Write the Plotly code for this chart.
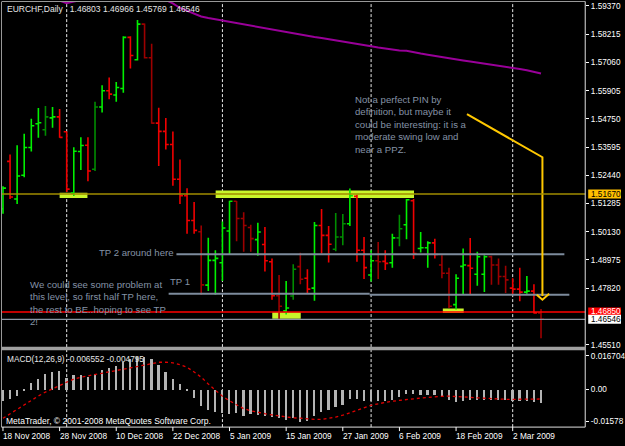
import plotly.graph_objects as go
import pandas as pd

W, H = 625, 446

# ---------------- data ----------------
bar_dates = [d for d in pd.bdate_range("2008-11-18", "2009-03-06")
             if d.strftime("%m-%d") not in ("12-25", "01-01")]

opens = [1.51064, 1.53009, 1.51469, 1.52442, 1.53576, 1.54549, 1.54306, 1.54792, 1.54832, 1.54224,
         1.51712, 1.53414, 1.53669, 1.52685, 1.55237, 1.55898, 1.55724, 1.55995, 1.58086, 1.57170,
         1.58629, 1.57251, 1.54577, 1.54237, 1.53698, 1.52280, 1.51603, 1.50590, 1.50132, 1.47944,
         1.48957, 1.48864, 1.50160, 1.51376, 1.50671, 1.50306, 1.49808, 1.49605, 1.48904, 1.47510,
         1.46891, 1.47498, 1.48702, 1.48228, 1.47822, 1.50387, 1.49982, 1.49415, 1.49917, 1.50456,
         1.51579, 1.49374, 1.48361, 1.48945, 1.48916, 1.48864, 1.49877, 1.50416, 1.51400, 1.49443,
         1.49472, 1.49674, 1.48767, 1.48430, 1.47146, 1.48714, 1.48742, 1.48390, 1.48390, 1.49107,
         1.48767, 1.48297, 1.47822, 1.47782, 1.47660, 1.47701, 1.46803]
highs = [1.51996, 1.53293, 1.53669, 1.54143, 1.54751, 1.55197, 1.55278, 1.55237, 1.55156, 1.54237,
         1.53588, 1.53994, 1.53994, 1.55452, 1.56129, 1.56441, 1.56263, 1.58126, 1.58126, 1.58791,
         1.58653, 1.57819, 1.55209, 1.54780, 1.54237, 1.53090, 1.51915, 1.51348, 1.50387, 1.49889,
         1.49374, 1.50549, 1.51400, 1.51390, 1.50930, 1.50416, 1.50497, 1.50323, 1.49038, 1.48361,
         1.48118, 1.48795, 1.49269, 1.48592, 1.50525, 1.51064, 1.50363, 1.50902, 1.50861, 1.51903,
         1.51643, 1.49917, 1.49374, 1.49715, 1.49374, 1.50051, 1.50821, 1.51469, 1.51469, 1.50120,
         1.49739, 1.49848, 1.49172, 1.48661, 1.48390, 1.49443, 1.49877, 1.49309, 1.49172, 1.49147,
         1.49038, 1.48742, 1.48228, 1.48661, 1.48321, 1.47985, 1.46966]
lows = [1.50862, 1.51469, 1.51267, 1.52361, 1.53414, 1.53981, 1.54062, 1.54387, 1.53981, 1.51753,
        1.51591, 1.52656, 1.52199, 1.52616, 1.55007, 1.55549, 1.55452, 1.55817, 1.56806, 1.57142,
        1.57220, 1.54549, 1.52818, 1.53495, 1.52008, 1.51267, 1.50051, 1.50051, 1.47551, 1.47701,
        1.47551, 1.48118, 1.49200, 1.49739, 1.49309, 1.49309, 1.49147, 1.48499, 1.47348, 1.46514,
        1.46741, 1.47348, 1.47985, 1.47592, 1.47308, 1.49241, 1.48876, 1.49334, 1.49577, 1.50363,
        1.48904, 1.48199, 1.48094, 1.48199, 1.48564, 1.48661, 1.49536, 1.49820, 1.49010, 1.49281,
        1.48661, 1.49038, 1.48228, 1.47012, 1.46943, 1.47551, 1.47551, 1.47916, 1.47660, 1.47956,
        1.47956, 1.47620, 1.47551, 1.47284, 1.47592, 1.46781, 1.45769]
closes = [1.51915, 1.51550, 1.52413, 1.53576, 1.54468, 1.54589, 1.54832, 1.54832, 1.53994, 1.51874,
          1.53426, 1.53657, 1.52616, 1.55237, 1.55898, 1.55764, 1.56036, 1.58086, 1.57344, 1.58629,
          1.57251, 1.54577, 1.54237, 1.53698, 1.52280, 1.51603, 1.50590, 1.50185, 1.47956, 1.48957,
          1.49038, 1.50282, 1.51376, 1.50671, 1.50387, 1.49849, 1.50120, 1.48945, 1.47510, 1.47081,
          1.47012, 1.48592, 1.48187, 1.47782, 1.50387, 1.49982, 1.49617, 1.49917, 1.50456, 1.51603,
          1.49374, 1.48661, 1.48945, 1.48904, 1.48835, 1.49877, 1.50254, 1.51441, 1.49241, 1.49472,
          1.49674, 1.49200, 1.48430, 1.47081, 1.48228, 1.48767, 1.48633, 1.49107, 1.49107, 1.48767,
          1.48297, 1.48159, 1.47782, 1.47660, 1.47701, 1.46810, 1.46546]
# bar colour class per bar: G lime, g dark green, R red, r dark red
bar_shade = list("GRGGGGgGRR" "GGRgGRGGRG" "rrRRRRRRrG" "GGGrrrGRRr"
                 "GgrRGRRggG" "RRGrRGgGRG" "GRrrGGRGGr" "rrRRGRr")

ma_values = [None] * 7 + [
    1.59696, 1.59594, 1.59480, 1.59553, 1.59615, 1.59660, 1.59690, 1.59710, 1.59720, 1.59720,
    1.59710, 1.59700, 1.59690, 1.59680, 1.59660, 1.59640, 1.59615, 1.59472, 1.59288, 1.59166,
    1.59044, 1.58942, 1.58881, 1.58828, 1.58779, 1.58726, 1.58677, 1.58628, 1.58575, 1.58514,
    1.58461, 1.58404, 1.58343, 1.58286, 1.58229, 1.58180, 1.58139, 1.58098, 1.58057, 1.58012,
    1.57968, 1.57919, 1.57874, 1.57829, 1.57780, 1.57719, 1.57666, 1.57621, 1.57576, 1.57548,
    1.57536, 1.57470, 1.57421, 1.57372, 1.57319, 1.57271, 1.57222, 1.57177, 1.57136, 1.57095,
    1.57055, 1.57014, 1.56969, 1.56924, 1.56879, 1.56838, 1.56790, 1.56737, 1.56671, 1.56606]

macd_main = [-0.00579, -0.00460, -0.00297, -0.00084, 0.00312, 0.00529, 0.00776, 0.00890, 0.00940, 0.00608,
             0.00742, 0.00742, 0.00643, 0.00806, 0.00974, 0.01073, 0.01187, 0.01385, 0.01533, 0.01607,
             0.01632, 0.01533, 0.01236, 0.00905, 0.00544, 0.00282, -0.00084, -0.00410, -0.00826, -0.00989,
             -0.01123, -0.01162, -0.01187, -0.01152, -0.01286, -0.01187, -0.01236, -0.01320, -0.01335, -0.01400,
             -0.01484, -0.01400, -0.01583, -0.01568, -0.01320, -0.01123, -0.00989, -0.00841, -0.00742, -0.00460,
             -0.00460, -0.00579, -0.00579, -0.00579, -0.00579, -0.00495, -0.00381, -0.00213, -0.00213, -0.00247,
             -0.00247, -0.00247, -0.00331, -0.00509, -0.00628, -0.00579, -0.00529, -0.00529, -0.00495, -0.00495,
             -0.00529, -0.00529, -0.00554, -0.00579, -0.00579, -0.00628, -0.006552]
macd_signal = [-0.01440, -0.01218, -0.00971, -0.00750, -0.00528, -0.00330, -0.00133, 0.00015, 0.00187, 0.00360,
               0.00508, 0.00607, 0.00680, 0.00745, 0.00789, 0.00863, 0.00937, 0.01001, 0.01075, 0.01159,
               0.01236, 0.01301, 0.01350, 0.01350, 0.01320, 0.01227, 0.01098, 0.00865, 0.00603, 0.00272,
               -0.00049, -0.00346, -0.00569, -0.00767, -0.00964, -0.01063, -0.01147, -0.01212, -0.01271, -0.01325,
               -0.01375, -0.01419, -0.01434, -0.01484, -0.01498, -0.01498, -0.01459, -0.01385, -0.01286, -0.01162,
               -0.01029, -0.00940, -0.00791, -0.00717, -0.00643, -0.00593, -0.00544, -0.00495, -0.00460, -0.00435,
               -0.00406, -0.00361, -0.00346, -0.00336, -0.00346, -0.00371, -0.00396, -0.00420, -0.00445, -0.00460,
               -0.00480, -0.00495, -0.00495, -0.00495, -0.00495, -0.00490, -0.004795]

price_ticks = [1.59370, 1.58215, 1.57060, 1.55905, 1.54750, 1.53595, 1.52440,
               1.51285, 1.50130, 1.48975, 1.47820, 1.45510]
macd_ticks = [0.016704, 0.0, -0.01578]
macd_tick_text = ["0.016704", "0.00", "-0.01578"]
date_labels = ["18 Nov 2008", "28 Nov 2008", "10 Dec 2008", "22 Dec 2008", "5 Jan 2009",
               "15 Jan 2009", "27 Jan 2009", "6 Feb 2009", "18 Feb 2009", "2 Mar 2009"]

level_olive = 1.51670
level_red = 1.46850
level_bid = closes[-1]

# user-drawn objects (bar index, price)
tp2_line = [(24.5, 1.49207), (79.3, 1.49207)]
tp1_line_a = [(23.4, 1.47594), (51.8, 1.47594)]
tp1_line_b = [(51.8, 1.47553), (80.0, 1.47553)]
arrow_path = [(65.54, 1.54939), (76.2, 1.53179), (76.2, 1.47500)]
arrow_head = [(75.4, 1.47553), (76.2, 1.47350), (77.15, 1.47594)]
zones = [(8.0, 11.93, 1.51512, 1.51728), (30.04, 58.06, 1.51512, 1.51821),
         (38.04, 42.06, 1.46565, 1.46837), (62.13, 65.08, 1.46800, 1.46991)]

title_text = "EURCHF,Daily\u00a0\u00a0 1.46803 1.46966 1.45769 1.46546"
macd_title = "MACD(12,26,9) -0.006552 -0.004795"
note_pin = ("Not a perfect PIN by<br>definition, but maybe it<br>could be interesting: it is a"
            "<br>moderate swing low and<br>near a PPZ.")
note_tp2 = "TP 2 around here"
note_tp1 = "TP 1"
note_problem = ("We could see some problem at<br>this level, so first half TP here,"
                "<br>the rest to BE..hoping to see TP<br>2!")

# ---------------- layout helpers ----------------
def px(x):
    return x / W

def py(y):
    return 1 - y / H

X_LEFT, X_RIGHT = 2, 589
Y_TOP, Y_MAIN_BOT, Y_MACD_TOP, Y_MACD_BOT = 2, 349, 353, 430
BAR0_PX, BAR_STEP = 3.0, 7.125
x_range = [(X_LEFT - BAR0_PX) / BAR_STEP, (X_RIGHT - BAR0_PX) / BAR_STEP]

FONT = "Liberation Sans, Arial, sans-serif"
NOTE_COL = "#8492a6"

fig = go.Figure()
xs = list(range(len(bar_dates)))

shade_colors = {"G": "#00f000", "g": "#008c00", "R": "#f00000", "r": "#9c0000"}
for key, col in shade_colors.items():
    idx = [i for i, s in enumerate(bar_shade) if s == key]
    fig.add_trace(go.Ohlc(
        x=idx, open=[opens[i] for i in idx], high=[highs[i] for i in idx],
        low=[lows[i] for i in idx], close=[closes[i] for i in idx],
        increasing=dict(line=dict(color=col, width=1.6)),
        decreasing=dict(line=dict(color=col, width=1.6)),
        tickwidth=0.42, hoverinfo="skip", showlegend=False, xaxis="x", yaxis="y"))

fig.add_trace(go.Scatter(x=xs, y=ma_values, mode="lines", line=dict(color="#990099", width=2),
                         hoverinfo="skip", showlegend=False, xaxis="x", yaxis="y"))

# user trendlines and arrow
for seg in (tp2_line, tp1_line_a, tp1_line_b):
    fig.add_trace(go.Scatter(x=[p[0] for p in seg], y=[p[1] for p in seg], mode="lines",
                             line=dict(color="#7d8b9c", width=2), hoverinfo="skip",
                             showlegend=False, xaxis="x", yaxis="y"))
for seg in (arrow_path, arrow_head):
    fig.add_trace(go.Scatter(x=[p[0] for p in seg], y=[p[1] for p in seg], mode="lines",
                             line=dict(color="#ffc800", width=2), hoverinfo="skip",
                             showlegend=False, xaxis="x", yaxis="y"))

# MACD
fig.add_trace(go.Bar(x=xs, y=macd_main, width=0.24, marker=dict(color="#b4b4b4", line=dict(width=0)),
                     hoverinfo="skip", showlegend=False, xaxis="x2", yaxis="y2"))
fig.add_trace(go.Scatter(x=xs, y=macd_signal, mode="lines",
                         line=dict(color="#e00000", width=1.3, dash="3px,3px"),
                         hoverinfo="skip", showlegend=False, xaxis="x2", yaxis="y2"))

shapes = []
# month-start grid lines
month_starts = [i for i in range(1, len(bar_dates)) if bar_dates[i].month != bar_dates[i - 1].month]
for i in month_starts:
    shapes.append(dict(type="line", xref="x", yref="paper", x0=i, x1=i, y0=py(Y_MACD_BOT), y1=py(Y_TOP),
                       line=dict(color="#e8e8e8", width=1, dash="3px,2px"), layer="below"))
# zones
for x0, x1, y0, y1 in zones:
    shapes.append(dict(type="rect", xref="x", yref="y", x0=x0, x1=x1, y0=y0, y1=y1,
                       fillcolor="#c8f52a", line=dict(width=0), layer="below"))
# horizontal levels
for lvl, col, wd in ((level_olive, "#a08c00", 1.5), (level_bid, "#8c96a4", 1.2), (level_red, "#ff0000", 1.5)):
    shapes.append(dict(type="line", xref="x domain", yref="y", x0=0, x1=1, y0=lvl, y1=lvl,
                       line=dict(color=col, width=wd)))
# frame
shapes += [
    dict(type="line", xref="paper", yref="paper", x0=px(X_LEFT), x1=px(X_RIGHT), y0=py(1.5), y1=py(1.5),
         line=dict(color="#9a9a9a", width=1)),
    dict(type="line", xref="paper", yref="paper", x0=px(1.5), x1=px(1.5), y0=py(Y_MACD_BOT), y1=py(1.5),
         line=dict(color="#9a9a9a", width=1)),
    dict(type="line", xref="paper", yref="paper", x0=px(X_RIGHT), x1=px(X_RIGHT), y0=py(Y_MACD_BOT), y1=py(1.5),
         line=dict(color="#e0e0e0", width=1)),
    dict(type="line", xref="paper", yref="paper", x0=px(1.5), x1=px(X_RIGHT), y0=py(Y_MACD_BOT), y1=py(Y_MACD_BOT),
         line=dict(color="#e0e0e0", width=1)),
    dict(type="rect", xref="paper", yref="paper", x0=px(1.5), x1=px(X_RIGHT), y0=py(352.5), y1=py(349),
         fillcolor="#a0a0a0", line=dict(width=0)),
]
# price label boxes
for lvl, bg in ((level_olive, "#ffc000"), (level_red, "#ff0000"), (level_bid, "#ffffff")):
    shapes.append(dict(type="rect", xref="paper", yref="y", ysizemode="pixel", yanchor=lvl,
                       x0=px(592), x1=px(625), y0=-4.5, y1=4.5, fillcolor=bg, line=dict(width=0)))

annotations = []
for lvl, fc in ((level_olive, "#000000"), (level_red, "#ffffff"), (level_bid, "#000000")):
    annotations.append(dict(xref="paper", yref="y", x=px(593), y=lvl, xanchor="left", yanchor="middle",
                            text=f"{lvl:.5f}", showarrow=False, font=dict(family=FONT, size=8.2, color=fc)))

# date labels + ticks
for lab in date_labels:
    d = pd.Timestamp(lab)
    i = [k for k, bd in enumerate(bar_dates) if bd == d][0]
    annotations.append(dict(xref="x", yref="paper", x=i, y=py(438.5), xanchor="left", yanchor="middle",
                            xshift=-2, text=lab, showarrow=False, font=dict(family=FONT, size=8.3, color="#ffffff")))
    shapes.append(dict(type="line", xref="x", yref="paper", x0=i, x1=i, y0=py(430), y1=py(434),
                       line=dict(color="#ffffff", width=1)))

annotations += [
    dict(xref="paper", yref="paper", x=px(5), y=py(9.5), xanchor="left", yanchor="middle", text=title_text,
         showarrow=False, font=dict(family=FONT, size=8.5, color="#e6e6e6")),
    dict(xref="paper", yref="paper", x=px(5), y=py(361), xanchor="left", yanchor="middle", text=macd_title,
         showarrow=False, font=dict(family=FONT, size=8.3, color="#e6e6e6")),
    dict(xref="paper", yref="paper", x=px(4), y=py(423.5), xanchor="left", yanchor="middle",
         text="MetaTrader, \u00a9 2001-2008 MetaQuotes Software Corp.",
         showarrow=False, font=dict(family=FONT, size=8.5, color="#ffffff")),
    dict(xref="paper", yref="paper", x=px(355), y=py(93), xanchor="left", yanchor="top", text=note_pin,
         align="left", showarrow=False, font=dict(family=FONT, size=9.6, color=NOTE_COL)),
    dict(xref="paper", yref="paper", x=px(98), y=py(254.5), xanchor="left", yanchor="middle", text=note_tp2,
         align="left", showarrow=False, font=dict(family=FONT, size=9.6, color=NOTE_COL)),
    dict(xref="paper", yref="paper", x=px(169), y=py(283.5), xanchor="left", yanchor="middle", text=note_tp1,
         align="left", showarrow=False, font=dict(family=FONT, size=9.6, color=NOTE_COL)),
    dict(xref="paper", yref="paper", x=px(28), y=py(279), xanchor="left", yanchor="top", text=note_problem,
         align="left", showarrow=False, font=dict(family=FONT, size=9.6, color=NOTE_COL)),
]

fig.update_layout(
    width=W, height=H, autosize=False, margin=dict(l=0, r=0, t=0, b=0, pad=0),
    paper_bgcolor="#000000", plot_bgcolor="rgba(0,0,0,0)", showlegend=False, bargap=0,
    xaxis=dict(domain=[px(X_LEFT), px(X_RIGHT)], range=x_range, anchor="y", visible=False,
               rangeslider=dict(visible=False), fixedrange=True),
    xaxis2=dict(domain=[px(X_LEFT), px(X_RIGHT)], range=x_range, anchor="y2", visible=False, matches="x"),
    yaxis=dict(domain=[py(Y_MAIN_BOT), py(Y_TOP)], range=[1.45427, 1.59533], anchor="x", side="right",
               tickvals=price_ticks, ticktext=[f"{v:.5f}" for v in price_ticks], ticks="outside", ticklen=3,
               tickcolor="#ffffff", tickfont=dict(family=FONT, size=8.2, color="#ffffff"),
               showgrid=False, zeroline=False, showline=False),
    yaxis2=dict(domain=[py(Y_MACD_BOT), py(Y_MACD_TOP)], range=[-0.01879, 0.01929], anchor="x2", side="right",
                tickvals=macd_ticks, ticktext=macd_tick_text, ticks="outside", ticklen=3,
                tickcolor="#ffffff", tickfont=dict(family=FONT, size=8.2, color="#ffffff"),
                showgrid=False, zeroline=False, showline=False),
    shapes=shapes, annotations=annotations,
)

fig.write_html("out.html")
